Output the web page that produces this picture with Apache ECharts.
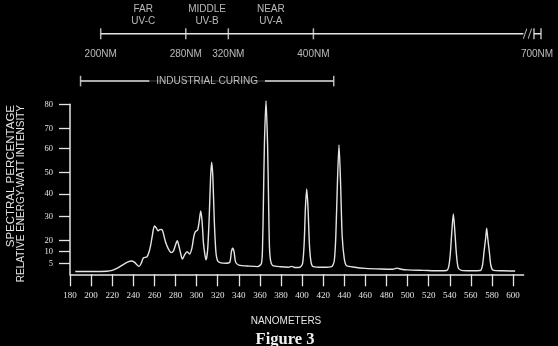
<!DOCTYPE html>
<html><head><meta charset="utf-8">
<script src="https://cdn.jsdelivr.net/npm/echarts@6/dist/echarts.min.js"></script>
<style>html,body{margin:0;padding:0;background:#000}#c{width:558px;height:346px}</style>
</head><body><div id="c"></div><script>
// ---- data (wavelength nm, relative intensity) ----
const wavelengths = [185,200,215,220,225,230,235,238,241,243.5,245.5,247.5,249.5,253,255,256.5,258,260,261.8,263.5,265,267,268.5,270.5,273,276,278,280,281.7,283.3,285,286.5,288.5,291,293.5,295.5,297.5,299,301,302.5,303.9,305.2,306.5,307.8,309,310.5,312,313.3,314.3,315.4,316.8,318.3,320,323,328,331.5,333,334.2,335.5,337,340,350,358,361.5,362.5,363.3,364.3,365.8,367.3,368.3,369.1,370.2,372,380,387,390,393,398,400.5,402,403.2,404.4,405.6,407,408.5,410.5,420,428,430.5,432,433.5,435,436.5,438,440,442,450,460,475,486,490,494,500,515,530,537,539,540.5,542,543.4,544.8,546.3,548,551,560,569,571,572.5,574,575,576,577.5,579,581,590,602];
const intensities = [1.3,1.3,1.4,1.8,2.8,4.3,5.6,6.0,5.5,4.3,3.6,5.0,7.3,7.8,10,16,22,26,25.2,24,24.5,24.6,23,19,13,9.6,10.5,16,19.9,15,9,6.8,8.5,10,9.0,13,22,23.8,24.4,28,32.4,28,18,9,6.5,12,30,48,54.2,48,28,10,6,5.2,5,5.5,10,13.1,10,5.5,4.2,3.7,3.5,5,14,35,62,81.5,62,35,14,6,4,3.4,3.2,3.6,3.1,3.2,5,18,34,42.3,34,16,5.5,3.5,3.2,3.5,6,22,45,61.7,45,22,7,4,3.2,2.7,2.4,2.3,2.8,2.3,2.0,1.8,1.6,1.7,3.5,9,24,31,24,9,3,1.8,1.6,1.7,4,10,21,25.1,21,10,4,1.9,1.6,1.5];

const xTicks = [180,200,220,240,260,280,300,320,340,360,380,400,420,440,460,480,500,520,540,560,580,600];
const yTicks = [5,10,20,30,40,50,60,70,80];
// printed intensity scale is non-linear: value -> axis units
const yScaleValues = [0,5,10,20,30,40,50,60,70,80];
const yScaleUnits  = [0,11,22.6,33.6,58,80.3,102,125.8,146,170];

const uvBandTicks = [200,280,320,400,700];
const uvBandLabels = ['200NM','280NM','320NM','400NM','700NM'];
const uvBandNames = ['FAR\nUV-C','MIDDLE\nUV-B','NEAR\nUV-A'];
const curingRange = [190,430];
const curingLabel = 'INDUSTRIAL CURING';

// ---- helpers ----
function toUnits(v){
  const n = yScaleValues.length;
  for (let i=1;i<n;i++){
    if (v<=yScaleValues[i]){
      const t=(v-yScaleValues[i-1])/(yScaleValues[i]-yScaleValues[i-1]);
      return yScaleUnits[i-1]+t*(yScaleUnits[i]-yScaleUnits[i-1]);
    }
  }
  const s=(yScaleUnits[n-1]-yScaleUnits[n-2])/(yScaleValues[n-1]-yScaleValues[n-2]);
  return yScaleUnits[n-1]+(v-yScaleValues[n-1])*s;
}
const yTickUnits = yTicks.map(toUnits);
// top band axis has a break between 600 and 700 nm
const BREAK_FROM = 600, BREAK_SHOWN = 614;
const bandPos = nm => nm<=BREAK_FROM ? nm : BREAK_SHOWN;

const C = '#e4e4e4';
const SANS = 'Liberation Sans';
const SERIF = 'Liberation Serif';

const mainData = wavelengths.map((w,i)=>[w, toUnits(intensities[i])]);

const bandTickData = uvBandTicks.map((t,i)=>({value:[bandPos(t),0], name:uvBandLabels[i],
  label: t>BREAK_FROM ? {offset:[-4,0]} : undefined}));
bandTickData.push({value:[BREAK_SHOWN-6.6,0], name:''});
const bandNameData = uvBandNames.map((nm,i)=>({value:[(uvBandTicks[i]+uvBandTicks[i+1])/2,0], name:nm}));

const chart = echarts.init(document.getElementById('c'));
chart.setOption({
  animation:false,
  backgroundColor:'#000',
  grid:[
    {left:70, top:104.3, width:453.6, height:170},
    {left:100.7, top:28.3, width:440.3, height:11},
    {left:70, top:75.8, width:453.6, height:10.6}
  ],
  xAxis:[
    {gridIndex:0, type:'value', min:180, max:610,
     axisLine:{lineStyle:{color:C,width:1.5}},
     axisTick:{customValues:xTicks, length:12, lineStyle:{color:C,width:1.3}},
     axisLabel:{customValues:xTicks, margin:17, color:C, fontSize:9, fontFamily:SERIF},
     splitLine:{show:false}},
    {gridIndex:1, type:'value', min:200, max:BREAK_SHOWN, show:false},
    {gridIndex:2, type:'value', min:180, max:610, show:false}
  ],
  yAxis:[
    {gridIndex:0, type:'value', min:0, max:170,
     axisLine:{show:true, lineStyle:{color:C,width:1.5}},
     axisTick:{show:true, customValues:yTickUnits, length:11, lineStyle:{color:C,width:1.3}},
     axisLabel:{customValues:yTickUnits, margin:17, color:C, fontSize:8.5, fontFamily:SERIF,
       formatter:v=>{const i=yTickUnits.findIndex(u=>Math.abs(u-v)<1e-6);return i>=0?String(yTicks[i]):'';}},
     splitLine:{show:false}},
    {gridIndex:1, type:'value', min:-1, max:1, show:false},
    {gridIndex:2, type:'value', min:-1, max:1, show:false}
  ],
  series:[
    {type:'line', xAxisIndex:0, yAxisIndex:0, data:mainData, showSymbol:false, smooth:0.25,
     clip:false, lineStyle:{color:C,width:1.4}},
    // top UV band scale
    {type:'line', xAxisIndex:1, yAxisIndex:1, showSymbol:false,
     data:[[200,0],[597.4,0],[602,'-'],[BREAK_SHOWN-6.6,0],[BREAK_SHOWN,0]],
     lineStyle:{color:C,width:1.5}},
    {type:'scatter', xAxisIndex:1, yAxisIndex:1, symbol:'rect', symbolSize:[1.5,11], z:3,
     itemStyle:{color:C}, data:bandTickData,
     label:{show:true, position:'bottom', distance:10, color:C, fontSize:10, fontFamily:SANS,
       formatter:p=>p.name}},
    {type:'scatter', xAxisIndex:1, yAxisIndex:1, symbol:'path://M0,12 L4,0', symbolSize:[3.5,10], z:3,
     itemStyle:{color:'none', borderColor:C, borderWidth:1.3}, data:[[599,0],[603.5,0]]},
    {type:'scatter', xAxisIndex:1, yAxisIndex:1, symbolSize:0, data:bandNameData, z:3,
     label:{show:true, position:'top', distance:6, color:C, fontSize:10, lineHeight:12.5, fontFamily:SANS,
       align:'center', formatter:p=>p.name}},
    // industrial curing bracket
    {type:'line', xAxisIndex:2, yAxisIndex:2, showSymbol:false, data:[[curingRange[0],0],[curingRange[1],0]],
     lineStyle:{color:C,width:1.5}},
    {type:'scatter', xAxisIndex:2, yAxisIndex:2, symbol:'rect', symbolSize:[1.5,10.6], z:3,
     itemStyle:{color:C}, data:curingRange.map(v=>[v,0])},
    {type:'scatter', xAxisIndex:2, yAxisIndex:2, symbolSize:0, z:5,
     data:[{value:[(curingRange[0]+curingRange[1])/2,0], name:curingLabel}],
     label:{show:true, position:'inside', color:C, fontSize:10, fontFamily:SANS,
       backgroundColor:'#000', padding:[2,7], formatter:p=>p.name}}
  ],
  graphic:[
    {type:'text', x:11, y:105, rotation:Math.PI/2,
     style:{text:'SPECTRAL PERCENTAGE', fill:C, fontSize:11.5, fontFamily:SANS, align:'right', verticalAlign:'middle'}},
    {type:'text', x:21, y:105, rotation:Math.PI/2,
     style:{text:'RELATIVE ENERGY-WATT INTENSITY', fill:C, fontSize:10, fontFamily:SANS, align:'right', verticalAlign:'middle'}},
    {type:'text', x:286, y:321.6,
     style:{text:'NANOMETERS', fill:C, fontSize:10, fontFamily:SANS, align:'center', verticalAlign:'middle'}},
    {type:'text', x:285, y:340,
     style:{text:'Figure 3', fill:'#f0f0f0', fontSize:16.5, fontWeight:'bold', fontFamily:SERIF, align:'center', verticalAlign:'middle'}}
  ]
});
</script></body></html>
